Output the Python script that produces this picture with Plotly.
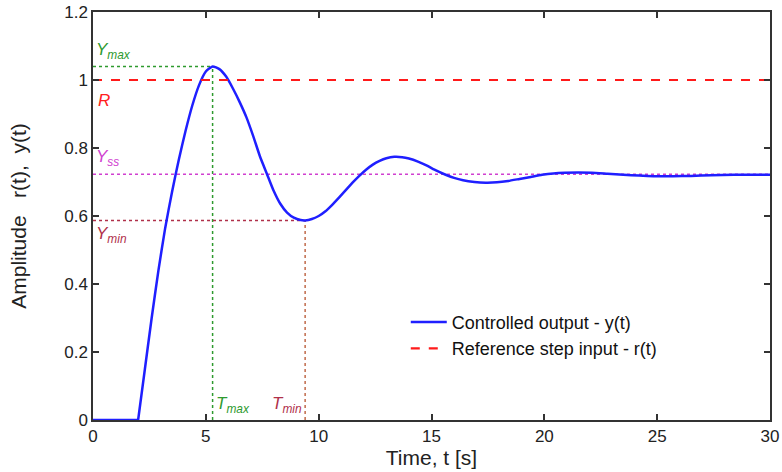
import plotly.graph_objects as go

# ---- data ----
t_y = [0, 2.0, 2.3, 2.6, 2.9, 3.2, 3.5, 3.8, 4.1, 4.4, 4.7, 5.0, 5.3, 5.6, 5.9, 6.2, 6.5, 6.8,
       7.1, 7.4, 7.7, 8.0, 8.3, 8.6, 8.9, 9.2, 9.4, 9.7, 10.0, 10.3, 10.6, 10.9, 11.2, 11.5,
       11.8, 12.1, 12.4, 12.7, 13.0, 13.35, 13.7, 14.0, 14.4, 14.8, 15.2, 15.6, 16.0, 16.4,
       16.9, 17.4, 17.9, 18.4, 18.9, 19.4, 19.9, 20.4, 20.9, 21.5, 22.1, 22.8, 23.5, 24.2,
       24.9, 25.7, 26.5, 27.4, 28.4, 29.2, 30.0]
y_vals = [0, 0, 0.15, 0.30, 0.44, 0.565, 0.67, 0.765, 0.85, 0.925, 0.985, 1.025, 1.04, 1.032, 1.01,
          0.975, 0.935, 0.89, 0.835, 0.775, 0.725, 0.675, 0.636, 0.61, 0.595, 0.588, 0.587, 0.591,
          0.6, 0.614, 0.633, 0.654, 0.676, 0.698, 0.718, 0.736, 0.751, 0.762, 0.77, 0.774, 0.773,
          0.769, 0.76, 0.748, 0.734, 0.722, 0.712, 0.705, 0.700, 0.698, 0.699, 0.703, 0.709, 0.715,
          0.721, 0.725, 0.727, 0.728, 0.727, 0.724, 0.721, 0.719, 0.717, 0.717, 0.718, 0.72, 0.721,
          0.721, 0.721]

t_ref = [0, 30]
r_vals = [1, 1]

Y_max, T_max = 1.04, 5.3
Y_min, T_min = 0.587, 9.4
Y_ss = 0.723

x_ticks = [0, 5, 10, 15, 20, 25, 30]
y_ticks = [0, 0.2, 0.4, 0.6, 0.8, 1.0, 1.2]
y_tick_text = ["0", "0.2", "0.4", "0.6", "0.8", "1", "1.2"]

GREEN = "#2e9a2e"
MAG = "#d040d0"
DRED = "#b0304a"
TMIN = "#c06a4a"
BLUE = "#1f1fff"
FONT = "Liberation Sans, Arial"

fig = go.Figure()

# helper lines
def helper(xs, ys, color):
    fig.add_trace(go.Scatter(x=xs, y=ys, mode="lines", line=dict(color=color, width=1.5, dash="dot"),
                             showlegend=False, hoverinfo="skip"))

helper([0, T_max], [Y_max, Y_max], GREEN)
helper([T_max, T_max], [0, Y_max], GREEN)
helper([0, 30], [Y_ss, Y_ss], MAG)
helper([0, T_min], [Y_min, Y_min], DRED)
helper([T_min, T_min], [0, Y_min], TMIN)

# flat part before the step response starts (sharp corner at t=2)
fig.add_trace(go.Scatter(x=t_y[:2], y=y_vals[:2], mode="lines", line=dict(color=BLUE, width=2.5),
                         showlegend=False, hoverinfo="skip"))
fig.add_trace(go.Scatter(x=t_y[1:], y=y_vals[1:], mode="lines", name="Controlled output - y(t)",
                         line=dict(color=BLUE, width=2.5, shape="spline", smoothing=0.5)))
fig.add_trace(go.Scatter(x=t_ref, y=r_vals, mode="lines", name="Reference step input - r(t)",
                         line=dict(color="#ff1a1a", width=2.2, dash="dash")))

def lab(x, y, text, color, xanchor="left", yanchor="middle"):
    fig.add_annotation(x=x, y=y, xref="x", yref="y", text=text, showarrow=False,
                       font=dict(color=color, size=17, family=FONT),
                       xanchor=xanchor, yanchor=yanchor)

lab(0.05, 1.085, "<i>Y<sub>max</sub></i>", GREEN)
lab(0.15, 0.975, "<i>R</i>", "#ff2020", yanchor="top")
lab(0.05, 0.77, "<i>Y<sub>ss</sub></i>", MAG)
lab(0.05, 0.545, "<i>Y<sub>min</sub></i>", DRED)
lab(T_max + 0.05, 0.045, "<i>T<sub>max</sub></i>", GREEN)
lab(T_min - 0.05, 0.045, "<i>T<sub>min</sub></i>", DRED, xanchor="right")

axis_common = dict(showline=True, linecolor="#333333", linewidth=1.5, mirror="ticks",
                   ticks="inside", ticklen=6, tickwidth=1.5, tickcolor="#333333",
                   showgrid=False, zeroline=False, automargin=False,
                   tickfont=dict(size=17, family=FONT, color="#222222"))

fig.update_xaxes(range=[0, 30], tickvals=x_ticks, **axis_common,
                 title=dict(text="Time, t [s]", font=dict(size=21, family=FONT, color="#222222"),
                            standoff=0))
fig.update_yaxes(range=[0, 1.2], tickvals=y_ticks, ticktext=y_tick_text, **axis_common,
                 title=dict(text="Amplitude\u00a0\u00a0\u00a0r(t),\u00a0\u00a0y(t)",
                            font=dict(size=21, family=FONT, color="#222222"),
                            standoff=32))

fig.update_layout(
    width=782, height=472,
    margin=dict(l=93, r=12, t=12, b=52, autoexpand=False),
    paper_bgcolor="white", plot_bgcolor="white",
    legend=dict(x=0.462, y=0.285, xanchor="left", yanchor="top", bgcolor="rgba(0,0,0,0)",
                font=dict(size=18, family=FONT, color="#111111"),
                tracegroupgap=0, itemwidth=36),
)

fig.write_html("out.html")
